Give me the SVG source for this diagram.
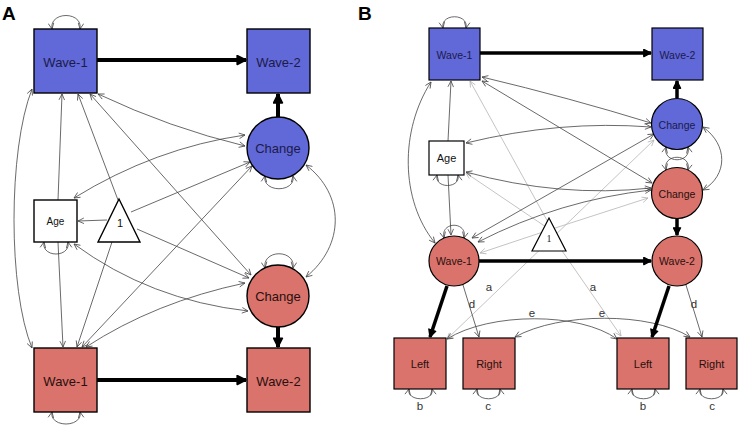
<svg xmlns="http://www.w3.org/2000/svg" width="739" height="426" viewBox="0 0 739 426">
<style>
.bg{fill:#ffffff}
text{opacity:0.995}
.lbl{font-family:"Liberation Sans",Arial,sans-serif;font-size:13px;text-anchor:middle}
.lblB{font-family:"Liberation Sans",Arial,sans-serif;font-size:10.5px;text-anchor:middle}
.panel{font-family:"Liberation Sans",Arial,sans-serif;font-size:19px;font-weight:bold;fill:#000}
.elab{font-family:"Liberation Sans",Arial,sans-serif;font-size:11.5px;text-anchor:middle;fill:#333}
.blue{fill:#6168d8;stroke:#000;stroke-width:1.4}
.red{fill:#d9736b;stroke:#000;stroke-width:1.4}
.white{fill:#fff;stroke:#000;stroke-width:1.4}
.tb{fill:#1b1b4a}
.tr{fill:#2a0f0f}
.tk{fill:#111}
.thin{fill:none;stroke:#444;stroke-width:0.8}
.gray{fill:none;stroke:#bdbdbd;stroke-width:0.9}
.thick{fill:none;stroke:#000;stroke-width:4}
.thickB{fill:none;stroke:#000;stroke-width:3.5}
</style>
<defs>
<marker id="ah" viewBox="0 0 10 10" refX="9.5" refY="5" markerWidth="7" markerHeight="7" markerUnits="userSpaceOnUse" orient="auto-start-reverse">
<path d="M1,1 L9.5,5 L1,9" fill="none" stroke="#444" stroke-width="1.1"/>
</marker>
<marker id="ag" viewBox="0 0 10 10" refX="9.5" refY="5" markerWidth="7" markerHeight="7" markerUnits="userSpaceOnUse" orient="auto-start-reverse">
<path d="M1,1 L9.5,5 L1,9" fill="none" stroke="#b5b5b5" stroke-width="1.1"/>
</marker>
<marker id="at" viewBox="0 0 10 10" refX="9" refY="5" markerWidth="11" markerHeight="11" markerUnits="userSpaceOnUse" orient="auto">
<path d="M1,1 L9,5 L1,9 z" fill="#000" stroke="#000" stroke-width="1.5" stroke-linejoin="round"/>
</marker>
<marker id="atB" viewBox="0 0 10 10" refX="9" refY="5" markerWidth="9" markerHeight="9" markerUnits="userSpaceOnUse" orient="auto">
<path d="M1,1 L9,5 L1,9 z" fill="#000" stroke="#000" stroke-width="1.5" stroke-linejoin="round"/>
</marker>
</defs>
<rect class="bg" x="0" y="0" width="739" height="426"/>
<text class="panel" x="2" y="20">A</text>
<text class="panel" x="358" y="20">B</text>

<g id="connectors">
<!-- Panel A thin -->
<g class="thin" marker-end="url(#ah)">
<path d="M52,29 C49,11 83,11 80,29" marker-start="url(#ah)"/>
<path d="M32,89 C8,150 8,290 32,348" marker-start="url(#ah)"/>
<path d="M58,200 L62,94"/>
<path d="M118,200 L78,94"/>
<path d="M90,94 L251,275" marker-start="url(#ah)"/>
<path d="M98,94 Q170,128 245,146" marker-start="url(#ah)"/>
<path d="M74,198 Q155,148 245,135" marker-start="url(#ah)"/>
<path d="M131,212 L250,162"/>
<path d="M107,220 L78,221"/>
<path d="M137,229 L249,278"/>
<path d="M112,242 L77,347"/>
<path d="M58,242 L63,347"/>
<path d="M74,244 Q150,300 248,311" marker-start="url(#ah)"/>
<path d="M86,347 Q155,302 245,283" marker-start="url(#ah)"/>
<path d="M82,347 L252,166" marker-start="url(#ah)"/>
<path d="M306,165 C345,195 345,245 306,277" marker-start="url(#ah)"/>
<path d="M44,242 C41,258 71,258 68,242" marker-start="url(#ah)"/>
<path d="M265,176 C262,193 296,193 293,176" marker-start="url(#ah)"/>
<path d="M265,268 C262,249 296,249 293,268" marker-start="url(#ah)"/>
<path d="M52,412 C49,428 83,428 80,412" marker-start="url(#ah)"/>
</g>
<!-- Panel A thick -->
<g class="thick" marker-end="url(#at)">
<path d="M97,60 L246,60"/>
<path d="M278,117 L278,94"/>
<path d="M278,327 L278,347"/>
<path d="M97,380 L246,380"/>
</g>
<!-- Panel B gray -->
<g class="gray" marker-end="url(#ag)">
<path d="M549,224 L470,81"/>
<path d="M549,241 L447,339"/>
<path d="M549,241 L654,140"/>
<path d="M549,232 L621,336"/>
<path d="M549,229 L466,173"/>
<path d="M549,230 L480,253"/>
<path d="M549,230 L648,198"/>
</g>
<!-- Panel B thin -->
<g class="thin" marker-end="url(#ah)">
<path d="M443,28 C440,13 469,13 466,28" marker-start="url(#ah)"/>
<path d="M431,82 C400,130 400,200 435,243" marker-start="url(#ah)"/>
<path d="M448,141 L451,81"/>
<path d="M448,175 L451,235"/>
<path d="M482,77 Q570,98 651,123" marker-start="url(#ah)"/>
<path d="M482,81 L652,183" marker-start="url(#ah)"/>
<path d="M466,143 Q560,120 651,127" marker-start="url(#ah)"/>
<path d="M466,172 Q560,198 651,188" marker-start="url(#ah)"/>
<path d="M472,238 L654,134" marker-start="url(#ah)"/>
<path d="M478,242 Q560,200 651,190" marker-start="url(#ah)"/>
<path d="M703,127 C728,145 728,175 703,190" marker-start="url(#ah)"/>
<path d="M437,175 C434,189 461,189 458,175" marker-start="url(#ah)"/>
<path d="M666,147 C662,164 692,164 688,147" marker-start="url(#ah)"/>
<path d="M666,170 C662,153 692,153 688,170" marker-start="url(#ah)"/>
<path d="M444,238 C440,221 468,221 464,238" marker-start="url(#ah)"/>
<path d="M463,285 L479,337"/>
<path d="M686,285 L702,337"/>
<path d="M447,339 C490,312 580,312 617,339" marker-start="url(#ah)"/>
<path d="M515,337 C560,312 650,312 690,337" marker-start="url(#ah)"/>
<path d="M409,389 C406,402 435,402 432,389" marker-start="url(#ah)"/>
<path d="M477,389 C474,402 503,402 500,389" marker-start="url(#ah)"/>
<path d="M632,389 C629,402 658,402 655,389" marker-start="url(#ah)"/>
<path d="M700,389 C697,402 726,402 723,389" marker-start="url(#ah)"/>
</g>
<!-- Panel B thick -->
<g class="thickB" marker-end="url(#atB)">
<path d="M480,53 L651,53"/>
<path d="M677,98 L677,81"/>
<path d="M677,219 L677,235"/>
<path d="M479,261 L651,261"/>
<path d="M447,286 L430,337"/>
<path d="M669,286 L652,337"/>
</g>
</g>

<g id="edge-labels">
<text class="elab" x="489" y="291">a</text>
<text class="elab" x="593" y="291">a</text>
<text class="elab" x="472" y="308">d</text>
<text class="elab" x="694" y="308">d</text>
<text class="elab" x="532" y="317">e</text>
<text class="elab" x="602" y="317">e</text>
<text class="elab" x="420" y="410">b</text>
<text class="elab" x="488" y="410">c</text>
<text class="elab" x="643" y="410">b</text>
<text class="elab" x="712" y="410">c</text>
</g>

<!-- Panel A nodes -->
<g id="A_wave1_blue"><rect class="blue" x="34" y="29" width="63" height="64"/><text class="lbl tb" x="65.5" y="67">Wave-1</text></g>
<g id="A_wave2_blue"><rect class="blue" x="247" y="29" width="63" height="64"/><text class="lbl tb" x="278.5" y="67">Wave-2</text></g>
<g id="A_change_blue"><circle class="blue" cx="278" cy="148" r="31"/><text class="lbl tb" x="278" y="153">Change</text></g>
<g id="A_age"><rect class="white" x="34" y="200" width="43" height="42"/><text class="lbl tk" style="font-size:10px" x="55.5" y="224.5">Age</text></g>
<g id="A_one"><polygon class="white" points="119,199 98,242 140,242"/><text class="lbl tk" style="font-size:11px" x="120" y="227">1</text></g>
<g id="A_change_red"><circle class="red" cx="278" cy="296" r="31"/><text class="lbl tr" x="278" y="301">Change</text></g>
<g id="A_wave1_red"><rect class="red" x="34" y="348" width="63" height="64"/><text class="lbl tr" x="65.5" y="385.5">Wave-1</text></g>
<g id="A_wave2_red"><rect class="red" x="247" y="348" width="63" height="64"/><text class="lbl tr" x="278.5" y="385.5">Wave-2</text></g>

<!-- Panel B nodes -->
<g id="B_wave1_blue"><rect class="blue" style="stroke-width:1.2" x="429" y="28" width="51" height="52"/><text class="lblB tb" x="454.5" y="59">Wave-1</text></g>
<g id="B_wave2_blue"><rect class="blue" style="stroke-width:1.2" x="652" y="28" width="51" height="52"/><text class="lblB tb" x="677.5" y="59">Wave-2</text></g>
<g id="B_change_blue"><circle class="blue" style="stroke-width:1.2" cx="677" cy="124" r="25.5"/><text class="lblB tb" x="677" y="128.5">Change</text></g>
<g id="B_age"><rect class="white" style="stroke-width:1.2" x="429" y="141" width="35" height="34"/><text class="lblB tk" style="font-size:11px" x="446.5" y="162">Age</text></g>
<g id="B_change_red"><circle class="red" style="stroke-width:1.2" cx="677" cy="193" r="25.5"/><text class="lblB tr" x="677" y="197.5">Change</text></g>
<g id="B_wave1_red"><circle class="red" style="stroke-width:1.2" cx="454" cy="261" r="25"/><text class="lblB tr" x="454" y="265">Wave-1</text></g>
<g id="B_wave2_red"><circle class="red" style="stroke-width:1.2" cx="677" cy="261" r="25"/><text class="lblB tr" x="677" y="265">Wave-2</text></g>
<g id="B_one"><polygon class="white" style="stroke-width:1.2" points="549,218 532,251 566,251"/><text x="549" y="242" style="font-family:'Liberation Serif','Times New Roman',serif;font-size:10px;text-anchor:middle;fill:#222">1</text></g>
<g id="B_left1"><rect class="red" style="stroke-width:1.2" x="394" y="338" width="52" height="51"/><text class="lblB tr" style="font-size:11px" x="420" y="368">Left</text></g>
<g id="B_right1"><rect class="red" style="stroke-width:1.2" x="463" y="338" width="52" height="51"/><text class="lblB tr" style="font-size:11px" x="489" y="368">Right</text></g>
<g id="B_left2"><rect class="red" style="stroke-width:1.2" x="617" y="338" width="52" height="51"/><text class="lblB tr" style="font-size:11px" x="643" y="368">Left</text></g>
<g id="B_right2"><rect class="red" style="stroke-width:1.2" x="686" y="338" width="51" height="51"/><text class="lblB tr" style="font-size:11px" x="711.5" y="368">Right</text></g>
</svg>
